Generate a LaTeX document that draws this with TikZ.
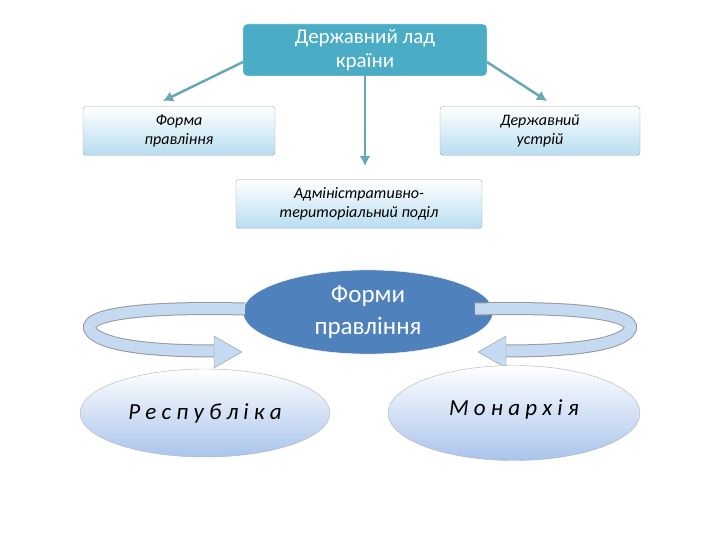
\documentclass[tikz,border=0pt]{standalone}
\usepackage{fontspec}
\setmainfont{Carlito}
\usetikzlibrary{shapes.geometric,arrows.meta}
\definecolor{tealb}{HTML}{4BACC6}
\definecolor{arrc}{HTML}{6AA7B5}
\definecolor{lb}{HTML}{B7DDF0}
\definecolor{ob}{HTML}{A9C4EC}
\definecolor{fb}{HTML}{4F81BD}
\definecolor{band}{HTML}{C5D9F1}
\begin{document}
\begin{tikzpicture}[x=1pt,y=-1pt,
  lbox/.style={draw=black!35,rounded corners=3pt,top color=white,bottom color=lb,font=\itshape\fontsize{16}{19}\selectfont,align=center,inner sep=2pt},
  arr/.style={draw=arrc,line width=2.5pt,-{Latex[length=10pt,width=11pt]}},
  oval/.style={ellipse,draw=black!30,top color=white,bottom color=ob,font=\itshape\fontsize{23}{27}\selectfont}]
\useasboundingbox (0,0) rectangle (720,540);
\node[fill=tealb,draw=white,rounded corners=4pt,minimum width=244pt,minimum height=52pt,text=white,align=center,font=\fontsize{21}{24}\selectfont] (top) at (365,50) {Державний лад\\країни};
\node[lbox,minimum width=192pt,minimum height=49pt] (l) at (179,131) {Форма\\правління};
\node[lbox,minimum width=200pt,minimum height=49pt] (r) at (540,131) {Державний\\устрій};
\node[lbox,minimum width=246pt,minimum height=49pt] (m) at (359,204) {Адміністративно-\\територіальний поділ};
\coordinate (tl) at (243,62); \coordinate (tr) at (487,62); \coordinate (tc) at (365,76);
\coordinate (el) at (163,101); \coordinate (er) at (547,101); \coordinate (ec) at (365,166);
\draw[arr] (tl) -- (el);
\draw[arr] (tr) -- (er);
\draw[arr] (tc) -- (ec);
\node[ellipse,fill=fb,draw=white,minimum width=250pt,minimum height=80pt,text=white,align=center,font=\fontsize{25}{32}\selectfont] (f) at (368,312) {Форми\\правління};
\foreach \s/\c in {1/0,-1/720}{
\begin{scope}[shift={(\c,0)},xscale=\s]
\draw[line width=13pt,draw=black!40] (245,309) .. controls (120,306) and (72,318) .. (95,335) .. controls (112,347) and (160,351) .. (215,351);
\draw[line width=11pt,draw=band] (245,309) .. controls (120,306) and (72,318) .. (95,335) .. controls (112,347) and (160,351) .. (217,351);
\draw[draw=black!40,fill=band] (214,336) -- (242,352) -- (214,368) -- cycle;
\end{scope}}
\node[oval,minimum width=250pt,minimum height=88pt] (re) at (205,413) {Р е с п у б л і к а};
\node[oval,minimum width=252pt,minimum height=95pt] (mo) at (514,413) {\raisebox{10pt}{М о н а р х і я}};
\end{tikzpicture}
\end{document}
